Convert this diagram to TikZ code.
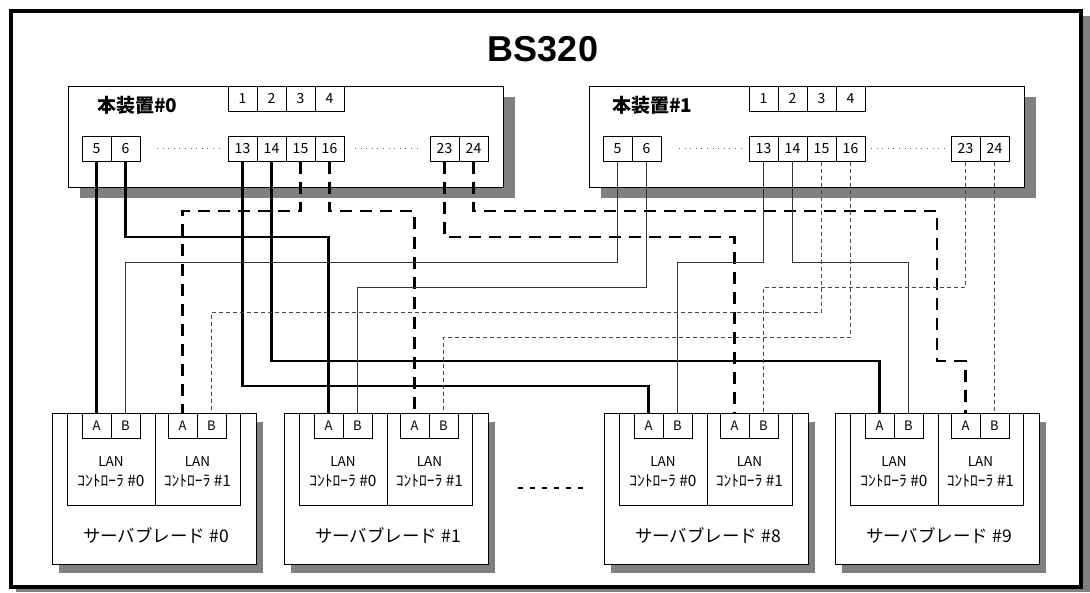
\documentclass[tikz,border=0pt]{standalone}
\usepackage{fontspec}
\setmainfont{Noto Sans CJK JP}
\newfontfamily\titlefont{Liberation Sans}
\usetikzlibrary{shadows}
\definecolor{shd}{gray}{0.5}
\definecolor{thincol}{gray}{0.2}
\definecolor{thindcol}{gray}{0.28}
\definecolor{dotcol}{gray}{0.4}
\begin{document}
\begin{tikzpicture}[x=1pt,y=-1pt,
  port/.style={draw, line width=1pt, fill=white, minimum width=29pt, minimum height=25pt, inner sep=0pt, font=\fontsize{13}{13}\selectfont},
  devbox/.style={draw, line width=1pt, fill=white, minimum width=435pt, minimum height=101pt, inner sep=0pt,
     drop shadow={shadow xshift=12pt, shadow yshift=-11pt, fill=shd, opacity=1}},
  bladebox/.style={draw, line width=1pt, fill=white, minimum width=204pt, minimum height=151pt, inner sep=0pt,
     drop shadow={shadow xshift=7pt, shadow yshift=-9pt, fill=shd, opacity=1}},
  ctrlbox/.style={draw, line width=1pt, minimum height=92pt, inner sep=0pt},
  devlabel/.style={inner sep=0pt, font=\bfseries\fontsize{19}{19}\selectfont},
  lantext/.style={inner sep=0pt, font=\fontsize{13.5}{13.5}\selectfont},
  ctrltext/.style={inner sep=0pt, font=\fontsize{15.5}{15.5}\selectfont},
  bladetext/.style={inner sep=0pt, font=\fontsize{17.5}{17.5}\selectfont},
  dotline/.style={dotcol, line width=1pt, dash pattern=on 1pt off 4.6pt},
  thk/.style={black, line width=2.8pt},
  thkd/.style={black, line width=2.8pt, dash pattern=on 12pt off 8pt},
  thn/.style={thincol, line width=1pt},
  thnd/.style={thindcol, line width=1pt, dash pattern=on 4pt off 3pt}
]
\useasboundingbox (0,0) rectangle (1090,592);
% outer frame
\fill[shd] (16,16) rectangle (1090,592);
\fill[white] (11,11) rectangle (1081,587);
\draw[line width=4pt] (11,11) rectangle (1081,587);

\node[inner sep=0pt, font=\titlefont\bfseries\fontsize{36}{36}\selectfont] (title) at (543,49) {BS320};

% devices
\foreach \d/\dx in {0/0,1/521} {
  \node[devbox] (dev\d) at (285.5+\dx,136.5) {};
  \foreach \i/\x in {1/242.5,2/271.5,3/300.5,4/329.5}
    \node[port, font=\fontsize{14}{14}\selectfont] (d\d p\i) at (\x+\dx,98.5) {\i};
  \foreach \i/\x in {5/96.5,6/125.5,13/242.5,14/271.5,15/300.5,16/329.5,23/444.5,24/473.5}
    \node[port, font=\fontsize{14}{14}\selectfont] (d\d p\i) at (\x+\dx,148.5) {\i};
}
\node[devlabel, anchor=west] (dev0label) at (97,105) {本装置\#0};
\node[devlabel, anchor=west] (dev1label) at (612,105) {本装置\#1};
\draw[dotline] (157,148.5) -- (219,148.5);
\draw[dotline] (355,148.5) -- (420,148.5);
\draw[dotline] (679,148.5) -- (742,148.5);
\draw[dotline] (871,148.5) -- (949,148.5);

% server blades
\foreach \n/\l in {0/52,1/284,8/604,9/835} {
  \node[bladebox] (b\n) at (\l+102,488.5) {};
  \node[ctrlbox, minimum width=88pt] (b\n-c0) at (\l+59,459) {};
  \node[ctrlbox, minimum width=85pt] (b\n-c1) at (\l+145.5,459) {};
  \node[port] (b\n-A) at (\l+44.5,425.5) {A};
  \node[port] (b\n-B) at (\l+73.5,425.5) {B};
  \node[port] (b\n-cA) at (\l+130.5,425.5) {A};
  \node[port] (b\n-cB) at (\l+159.5,425.5) {B};
  \node[lantext] (b\n-l0) at (\l+59,462) {LAN};
  \node[lantext] (b\n-l1) at (\l+145.5,462) {LAN};
  \node[ctrltext] (b\n-k0) at (\l+59,481) {ｺﾝﾄﾛｰﾗ \#0};
  \node[ctrltext] (b\n-k1) at (\l+145.5,481) {ｺﾝﾄﾛｰﾗ \#1};
  \node[bladetext] (b\n-t) at (\l+104,535) {サーバブレード\hspace{4pt}\#\n};
}
\draw[line width=1.5pt, dash pattern=on 5pt off 7pt] (518,488) -- (583,488);

% routing levels
\coordinate (L211) at (0,211);
\coordinate (L237) at (0,237);
\coordinate (L262) at (0,262);
\coordinate (L287) at (0,287);
\coordinate (L312) at (0,312);
\coordinate (L337) at (0,337);
\coordinate (L361) at (0,361);
\coordinate (L386) at (0,386);
\coordinate (J1) at (937,211);

% connectors from device #0
\draw[thk] (d0p5.south) -- (b0-A.north);
\draw[thk] (d0p6.south) |- (b1-A.north |- L237) -- (b1-A.north);
\draw[thk] (d0p13.south) |- (b8-A.north |- L386) -- (b8-A.north);
\draw[thk] (d0p14.south) |- (b9-A.north |- L361) -- (b9-A.north);
\draw[thkd] (d0p15.south) |- (b0-cA.north |- L211) -- (b0-cA.north);
\draw[thkd] (d0p16.south) |- (b1-cA.north |- L211) -- (b1-cA.north);
\draw[thkd] (d0p23.south) |- (b8-cA.north |- L237) -- (b8-cA.north);
\draw[thkd] (d0p24.south) |- (J1) -- (J1 |- L361) -| (b9-cA.north);

% connectors from device #1
\draw[thn] (d1p5.south) |- (b0-B.north |- L262) -- (b0-B.north);
\draw[thn] (d1p6.south) |- (b1-B.north |- L287) -- (b1-B.north);
\draw[thn] (d1p13.south) |- (b8-B.north |- L262) -- (b8-B.north);
\draw[thn] (d1p14.south) |- (b9-B.north |- L262) -- (b9-B.north);
\draw[thnd] (d1p15.south) |- (b0-cB.north |- L312) -- (b0-cB.north);
\draw[thnd] (d1p16.south) |- (b1-cB.north |- L337) -- (b1-cB.north);
\draw[thnd] (d1p23.south) |- (b8-cB.north |- L287) -- (b8-cB.north);
\draw[thnd] (d1p24.south) -- (b9-cB.north);
\end{tikzpicture}
\end{document}
